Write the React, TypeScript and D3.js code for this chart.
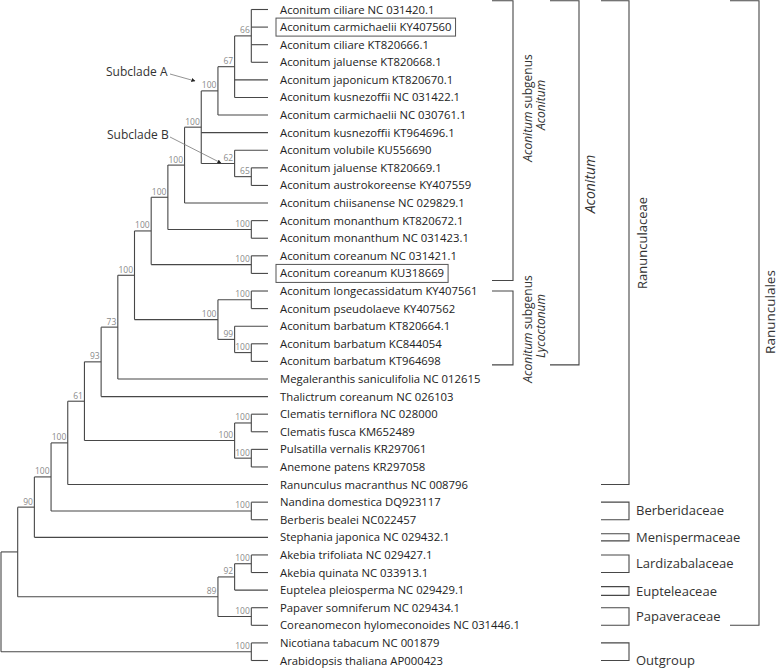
import React, { useEffect, useRef } from "react";
import * as d3 from "d3";

const TAXA = [
  "Aconitum ciliare NC 031420.1",
  "Aconitum carmichaelii KY407560",
  "Aconitum ciliare KT820666.1",
  "Aconitum jaluense KT820668.1",
  "Aconitum japonicum KT820670.1",
  "Aconitum kusnezoffii NC 031422.1",
  "Aconitum carmichaelii NC 030761.1",
  "Aconitum kusnezoffii KT964696.1",
  "Aconitum volubile KU556690",
  "Aconitum jaluense KT820669.1",
  "Aconitum austrokoreense KY407559",
  "Aconitum chiisanense NC 029829.1",
  "Aconitum monanthum KT820672.1",
  "Aconitum monanthum NC 031423.1",
  "Aconitum coreanum NC 031421.1",
  "Aconitum coreanum KU318669",
  "Aconitum longecassidatum KY407561",
  "Aconitum pseudolaeve KY407562",
  "Aconitum barbatum KT820664.1",
  "Aconitum barbatum KC844054",
  "Aconitum barbatum KT964698",
  "Megaleranthis saniculifolia NC 012615",
  "Thalictrum coreanum NC 026103",
  "Clematis terniflora NC 028000",
  "Clematis fusca KM652489",
  "Pulsatilla vernalis KR297061",
  "Anemone patens KR297058",
  "Ranunculus macranthus NC 008796",
  "Nandina domestica DQ923117",
  "Berberis bealei NC022457",
  "Stephania japonica NC 029432.1",
  "Akebia trifoliata NC 029427.1",
  "Akebia quinata NC 033913.1",
  "Euptelea pleiosperma NC 029429.1",
  "Papaver somniferum NC 029434.1",
  "Coreanomecon hylomeconoides NC 031446.1",
  "Nicotiana tabacum NC 001879",
  "Arabidopsis thaliana AP000423",
];

// Topology (Newick, leaves = 1-based index into TAXA, internal labels = bootstrap support)
const SUBCLADE_A = "(((1,2,3,4)66,5,6)67,7)100";
const SUBCLADE_B = "(9,(10,11)65)62";
const LYCOCTONUM = "((17,18)100,(19,(20,21)100)99)100";
const ANEMONEAE = "((24,25)100,(26,27)100)100";
const OTHER_FAMILIES = "(((32,33)100,34)92,(35,36)100)89";
const ACONITUM = `(((((${SUBCLADE_A},8,${SUBCLADE_B})100,12)100,(13,14)100)100,(15,16)100)100,${LYCOCTONUM})100`;
const RANUNCULACEAE = `((((${ACONITUM},22)73,23)93,${ANEMONEAE})61,28)100`;
const TREE = `((((${RANUNCULACEAE},(29,30)100)100,31)90,${OTHER_FAMILIES}),(37,38)100)`;

const BOXED = [2, 16];

// Brackets: label, first leaf, last leaf (fractional leaf positions, 1-based)
const SUBGENUS_BRACKETS = [
  { name: "Aconitum", from: 0.5, to: 16.4 },
  { name: "Lycoctonum", from: 17, to: 21.2 },
];
const FAMILY_BRACKETS = [
  { name: "Berberidaceae", from: 29, to: 30 },
  { name: "Menispermaceae", from: 30.8, to: 31.2 },
  { name: "Lardizabalaceae", from: 32, to: 33 },
  { name: "Eupteleaceae", from: 33.8, to: 34.3 },
  { name: "Papaveraceae", from: 35, to: 36 },
  { name: "Outgroup", from: 37, to: 38 },
];
const GENUS_BRACKET = { name: "Aconitum", from: 0.5, to: 21.2 };
const RANUNCULACEAE_BRACKET = { name: "Ranunculaceae", from: 0.5, to: 28 };
const RANUNCULALES_BRACKET = { name: "Ranunculales", from: 0.5, to: 36 };

const SUBCLADE_NOTES = ["Subclade A", "Subclade B"];

type TNode = { children?: TNode[]; support?: string; leaf?: number };

function parseNewick(s: string): TNode {
  let i = 0;
  function node(): TNode {
    const n: TNode = {};
    if (s[i] === "(") {
      i++;
      n.children = [];
      while (true) {
        n.children.push(node());
        if (s[i] === ",") {
          i++;
          continue;
        }
        if (s[i] === ")") {
          i++;
          break;
        }
        break;
      }
    }
    let tok = "";
    while (i < s.length && !",()".includes(s[i])) tok += s[i++];
    if (n.children) n.support = tok;
    else n.leaf = +tok - 1;
    return n;
  }
  return node();
}

const W = 779;
const H = 670;
const FONT = "'Open Sans', 'Noto Sans', sans-serif";
const LINE = "#474747";

export default function App() {
  const ref = useRef<SVGSVGElement>(null);

  useEffect(() => {
    const svg = d3.select(ref.current);
    svg.selectAll("*").remove();

    const root = d3.hierarchy<TNode>(parseNewick(TREE), (d) => d.children);
    const leaves = root.leaves();
    const y = d3.scaleLinear().domain([1, TAXA.length]).range([9.5, 660.5]);
    const x = d3.scaleLinear().domain([root.height, 0]).range([1, 268]);

    const pos = new Map<any, { x: number; y: number }>();
    root.eachAfter((n: any) => {
      const px = x(n.height);
      let py: number;
      if (n.children) {
        py = (pos.get(n.children[0])!.y + pos.get(n.children[n.children.length - 1])!.y) / 2;
      } else {
        py = y(n.data.leaf + 1);
      }
      pos.set(n, { x: px, y: py });
    });

    const g = svg.append("g");
    // branches
    root.descendants().forEach((n: any) => {
      const p = pos.get(n)!;
      if (n.parent) {
        const pp = pos.get(n.parent)!;
        g.append("line")
          .attr("x1", pp.x).attr("x2", p.x).attr("y1", p.y).attr("y2", p.y)
          .attr("stroke", LINE).attr("stroke-width", 1.1);
      }
      if (n.children) {
        const a = pos.get(n.children[0])!;
        const b = pos.get(n.children[n.children.length - 1])!;
        g.append("line")
          .attr("x1", p.x).attr("x2", p.x).attr("y1", a.y).attr("y2", b.y)
          .attr("stroke", LINE).attr("stroke-width", 1.1);
        if (n.data.support) {
          g.append("text")
            .attr("x", p.x - 1.5).attr("y", p.y - 2.5)
            .attr("text-anchor", "end")
            .attr("font-family", FONT).attr("font-size", 8.5)
            .attr("fill", "#8a8a8a")
            .text(n.data.support);
        }
      }
    });

    // leaf labels
    leaves.forEach((n: any) => {
      const p = pos.get(n)!;
      const t = g.append("text")
        .attr("x", 280).attr("y", p.y + 4)
        .attr("font-family", FONT).attr("font-size", 11.3)
        .attr("fill", "#222")
        .text(TAXA[n.data.leaf]);
      if (BOXED.includes(n.data.leaf + 1)) {
        const w = (t.node() as SVGTextElement).getComputedTextLength();
        g.append("rect")
          .attr("x", 276).attr("y", p.y - 9).attr("width", w + 8).attr("height", 18)
          .attr("fill", "none").attr("stroke", "#555").attr("stroke-width", 1);
      }
    });

    // bracket helper
    const bracket = (x0: number, x1: number, from: number, to: number) => {
      const y0 = y(from), y1 = y(to);
      g.append("path")
        .attr("d", `M${x0},${y0}H${x1}V${y1}H${x0}`)
        .attr("fill", "none").attr("stroke", LINE).attr("stroke-width", 1.1);
      return (y0 + y1) / 2;
    };

    // subgenus brackets
    SUBGENUS_BRACKETS.forEach((b, i) => {
      const mid = bracket(492, 513, b.from, b.to);
      const cy = i === 0 ? 108 : mid + 1;
      const t1 = g.append("text")
        .attr("transform", `translate(532,${cy}) rotate(-90)`)
        .attr("text-anchor", "middle")
        .attr("font-family", FONT).attr("font-size", 12).attr("fill", "#333");
      t1.append("tspan").attr("font-style", "italic").text("Aconitum");
      t1.append("tspan").text(" subgenus");
      g.append("text")
        .attr("transform", `translate(545,${cy - 3}) rotate(-90)`)
        .attr("text-anchor", "middle")
        .attr("font-family", FONT).attr("font-size", 12).attr("fill", "#333")
        .attr("font-style", "italic")
        .text(b.name);
    });

    // genus bracket
    bracket(550, 579, GENUS_BRACKET.from, GENUS_BRACKET.to);
    g.append("text")
      .attr("transform", `translate(595,184) rotate(-90)`)
      .attr("text-anchor", "middle")
      .attr("font-family", FONT).attr("font-size", 14).attr("fill", "#333")
      .attr("font-style", "italic")
      .text(GENUS_BRACKET.name);

    // family Ranunculaceae
    bracket(601, 629, RANUNCULACEAE_BRACKET.from, RANUNCULACEAE_BRACKET.to);
    g.append("text")
      .attr("transform", `translate(647,243) rotate(-90)`)
      .attr("text-anchor", "middle")
      .attr("font-family", FONT).attr("font-size", 13).attr("fill", "#333")
      .text(RANUNCULACEAE_BRACKET.name);

    // order Ranunculales
    bracket(730, 759, RANUNCULALES_BRACKET.from, RANUNCULALES_BRACKET.to);
    g.append("text")
      .attr("transform", `translate(775,312) rotate(-90)`)
      .attr("text-anchor", "middle")
      .attr("font-family", FONT).attr("font-size", 13.5).attr("fill", "#333")
      .text(RANUNCULALES_BRACKET.name);

    // other families
    FAMILY_BRACKETS.forEach((b) => {
      let cy = bracket(601, 629, b.from, b.to);
      if (b.name === "Outgroup") cy = y(b.to);
      g.append("text")
        .attr("x", 636).attr("y", cy + 4.5)
        .attr("font-family", FONT).attr("font-size", 13).attr("fill", "#333")
        .text(b.name);
    });

    // subclade annotations
    svg.append("defs").append("marker")
      .attr("id", "arr").attr("viewBox", "0 0 10 10").attr("refX", 9).attr("refY", 5)
      .attr("markerWidth", 5).attr("markerHeight", 5).attr("orient", "auto")
      .append("path").attr("d", "M0,0L10,5L0,10Z").attr("fill", "#222");
    const notes = [
      { name: SUBCLADE_NOTES[0], tx: 106, ty: 72, ax: 170, ay: 74, bx: 195, by: 81 },
      { name: SUBCLADE_NOTES[1], tx: 107, ty: 135, ax: 170, ay: 137, bx: 221, by: 163 },
    ];
    notes.forEach((n) => {
      g.append("text")
        .attr("x", n.tx).attr("y", n.ty + 4)
        .attr("font-family", FONT).attr("font-size", 12).attr("fill", "#333")
        .text(n.name);
      g.append("line")
        .attr("x1", n.ax).attr("y1", n.ay).attr("x2", n.bx).attr("y2", n.by)
        .attr("stroke", "#777").attr("stroke-width", 0.8)
        .attr("marker-end", "url(#arr)");
    });
  }, []);

  return (
    <svg
      ref={ref}
      width={W}
      height={H}
      style={{ position: "absolute", left: 0, top: 0, background: "#fff" }}
    />
  );
}
